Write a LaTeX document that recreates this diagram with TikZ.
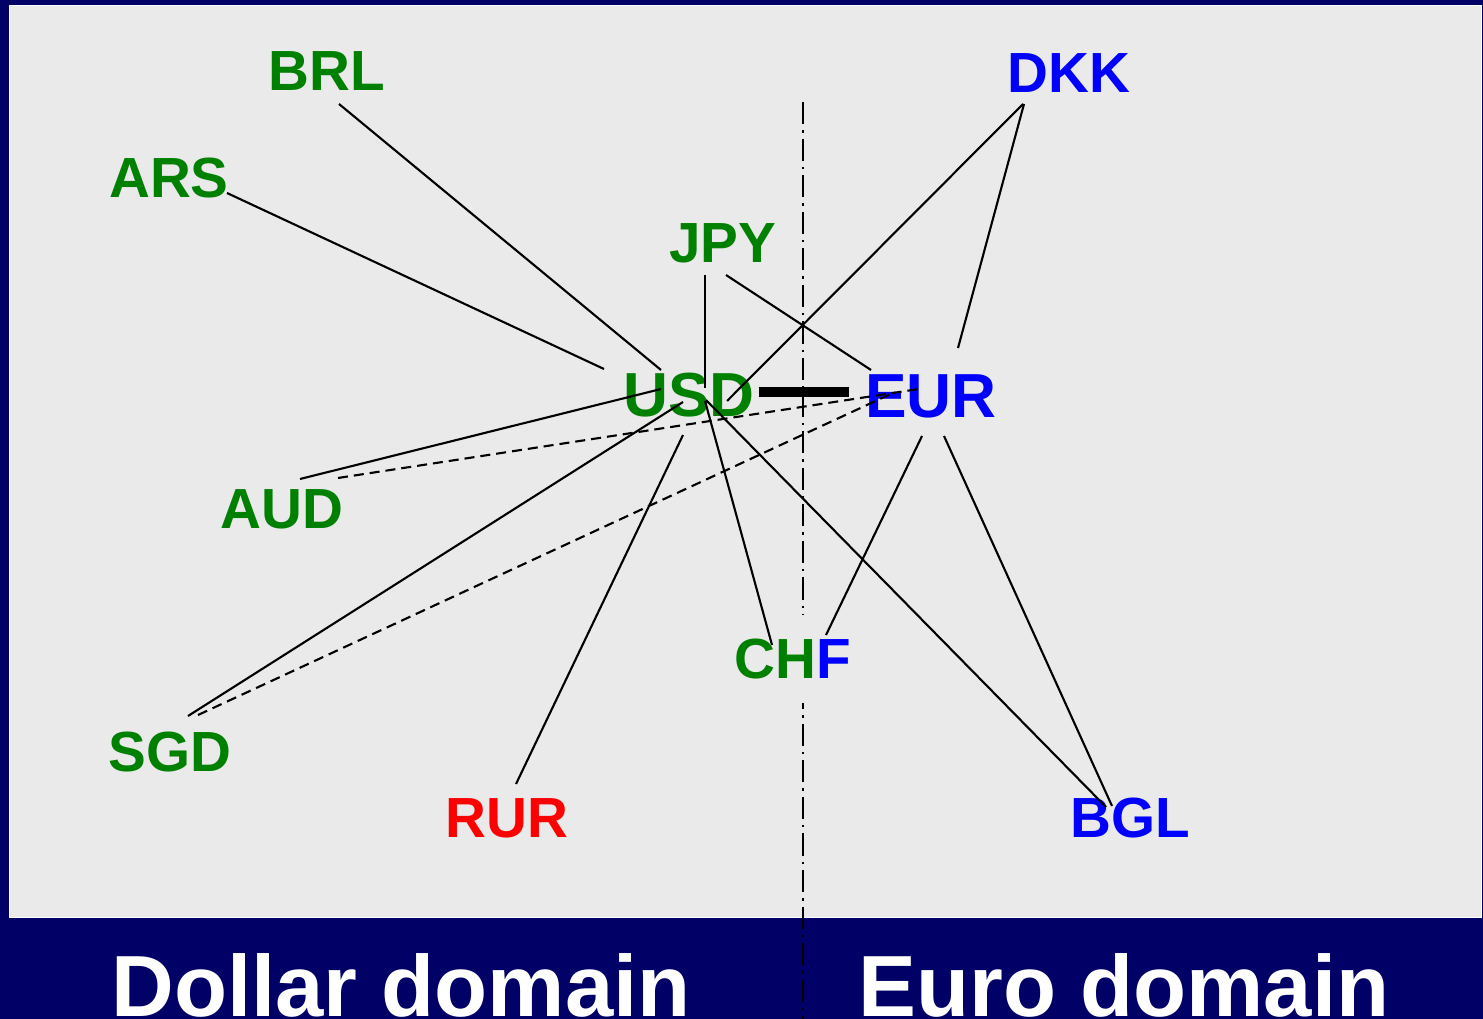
\documentclass[tikz,border=0pt]{standalone}
\usepackage{fontspec}
\setmainfont{Liberation Sans}
\definecolor{navy}{HTML}{000066}
\definecolor{panel}{HTML}{EAEAEA}
\definecolor{dgreen}{HTML}{008000}
\definecolor{dblue}{HTML}{0000FF}
\definecolor{dred}{HTML}{FF0000}
\tikzset{
  lbl/.style={inner sep=0pt, font=\bfseries\fontsize{16.1}{18}\selectfont},
  biglbl/.style={inner sep=0pt, font=\bfseries\fontsize{17.7}{20}\selectfont},
  link/.style={line width=0.6pt, black},
  dlink/.style={line width=0.6pt, black, dash pattern=on 2.85pt off 1.7pt},
  divider/.style={line width=0.65pt, black, dash pattern=on 6.3pt off 1.7pt on 0.7pt off 1.7pt},
  peg/.style={line width=2.85pt, black},
  domaintxt/.style={inner sep=0pt, anchor=base, text=white, font=\bfseries\fontsize{24.7}{28}\selectfont}
}
\begin{document}
\begin{tikzpicture}[x=0.01cm, y=-0.01cm]
\useasboundingbox (0,0) rectangle (1483,1019);
\begin{scope}
\clip (0,0) rectangle (1483,1019);
\fill[navy] (0,0) rectangle (1483,1019);
\filldraw[fill=panel, draw=white, line width=0.4pt] (9.5,5.5) rectangle (1481.5,917.5);

% dividing line
\coordinate (divtop) at (803,102);
\coordinate (divbot) at (803,1025);
\draw[divider] (divtop) -- (divbot);

% labels
\node[lbl, text=dgreen] (BRL) at (327,71) {BRL};
\node[lbl, text=dgreen] (ARS) at (169,178) {ARS};
\node[lbl, text=dgreen] (JPY) at (723,243) {JPY};
\node[lbl, text=dblue] (DKK) at (1069,73) {DKK};
\node[biglbl, text=dgreen] (USD) at (689,395) {USD};
\node[biglbl, text=dblue] (EUR) at (931,396) {EUR};
\node[lbl, text=dgreen] (AUD) at (282,509) {AUD};
\node[lbl, text=dgreen] (SGD) at (170,752) {SGD};
\node[lbl, text=dred] (RUR) at (507,818) {RUR};
\node[lbl, fill=panel, inner ysep=6.8pt, inner xsep=0pt] (CHF) at (793,659) {\textcolor{dgreen}{CH}\textcolor{dblue}{F}};
\node[lbl, text=dblue] (BGL) at (1130,818) {BGL};

% connector end points
\coordinate (brl1) at (339,104);  \coordinate (usdBRL) at (661,370);
\coordinate (ars1) at (227,193);  \coordinate (usdARS) at (604,369);
\coordinate (jpy1) at (705,275);  \coordinate (usdJPY) at (705,388);
\coordinate (jpy2) at (726,275);  \coordinate (eurJPY) at (871,370);
\coordinate (dkk1) at (1023,104); \coordinate (usdDKK) at (727,401);
\coordinate (dkk2) at (1024,104); \coordinate (eurDKK) at (958,348);
\coordinate (aud1) at (300,479);  \coordinate (usdAUD) at (661,389);
\coordinate (aud2) at (338,478);  \coordinate (eurAUD) at (919,389);
\coordinate (sgd1) at (188,716);  \coordinate (usdSGD) at (683,402);
\coordinate (sgd2) at (198,715);  \coordinate (eurSGD) at (895,392);
\coordinate (rur1) at (516,784);  \coordinate (usdRUR) at (683,435);
\coordinate (chf1) at (772,645);  \coordinate (usdCHF) at (705,401);
\coordinate (chf2) at (826,635);  \coordinate (eurCHF) at (922,436);
\coordinate (bgl1) at (1106,807); \coordinate (usdBGL) at (706,400);
\coordinate (bgl2) at (1112,806); \coordinate (eurBGL) at (944,436);
\coordinate (pegL) at (759,392);  \coordinate (pegR) at (849,392);

\draw[link] (brl1) -- (usdBRL);
\draw[link] (ars1) -- (usdARS);
\draw[link] (jpy1) -- (usdJPY);
\draw[link] (jpy2) -- (eurJPY);
\draw[link] (dkk1) -- (usdDKK);
\draw[link] (dkk2) -- (eurDKK);
\draw[link] (aud1) -- (usdAUD);
\draw[dlink] (aud2) -- (eurAUD);
\draw[link] (sgd1) -- (usdSGD);
\draw[dlink] (sgd2) -- (eurSGD);
\draw[link] (rur1) -- (usdRUR);
\draw[link] (usdCHF) -- (chf1);
\draw[link] (eurCHF) -- (chf2);
\draw[link] (usdBGL) -- (bgl1);
\draw[link] (eurBGL) -- (bgl2);
\draw[peg] (pegL) -- (pegR);

% bottom band texts
\node[domaintxt] (dollar) at (401,1016) {Dollar domain};
\node[domaintxt] (euro) at (1124,1016) {Euro domain};
\end{scope}
\end{tikzpicture}
\end{document}
